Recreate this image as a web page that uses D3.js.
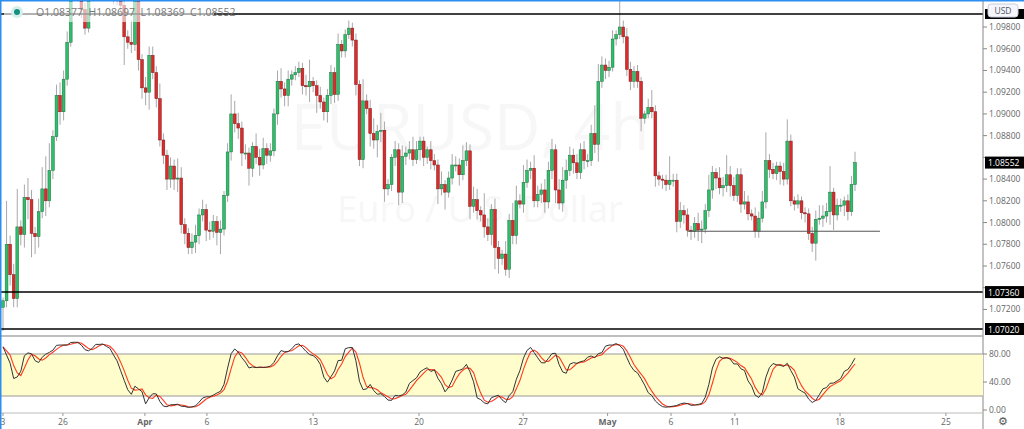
<!DOCTYPE html>
<html>
<head>
<meta charset="utf-8">
<script src="https://cdn.jsdelivr.net/npm/d3@7"></script>
<style>
  body { margin: 0; background: #fff; font-family: "Open Sans", sans-serif; }
  svg { display: block; }
</style>
</head>
<body>
<script>
// closes (4h candles)
const closes = [
  1.0728,1.0780,1.0752,1.0730,1.0796,1.0789,1.0823,1.0821,1.0790,1.0787,1.0810,1.0831,1.0820,1.0848,1.0879,1.0917,1.0902,1.0932,1.0966,1.1014,
  1.1028,1.1019,1.0996,1.0979,1.1010,1.1023,1.1032,1.1019,1.1037,1.1023,1.1014,1.1006,1.1012,1.1000,1.0971,1.0966,1.0964,1.1005,1.0950,1.0924,1.0920,1.0954,
  1.0938,1.0914,1.0876,1.0862,1.0840,1.0852,1.0840,1.0841,1.0798,1.0790,1.0777,1.0782,1.0788,1.0807,1.0812,1.0793,1.0792,1.0801,1.0791,
  1.0794,1.0825,1.0865,1.0900,1.0891,1.0887,1.0864,1.0864,1.0850,1.0870,1.0860,1.0853,1.0868,1.0862,1.0866,1.0900,1.0930,1.0923,1.0917,1.0932,
  1.0936,1.0938,1.0942,1.0926,1.0925,1.0930,1.0926,1.0917,1.0911,1.0902,1.0917,1.0938,1.0918,1.0964,1.0958,1.0973,1.0979,1.0968,1.0927,1.0858,
  1.0912,1.0905,1.0882,1.0876,1.0884,1.0885,1.0831,1.0835,1.0860,1.0867,1.0828,1.0861,1.0864,1.0867,1.0858,1.0867,1.0875,1.0860,1.0867,1.0857,
  1.0853,1.0831,1.0835,
  1.0828,1.0841,1.0853,1.0853,1.0844,1.0857,1.0866,1.0815,1.0821,1.0811,1.0807,1.0796,1.0789,1.0812,1.0777,1.0767,1.0771,1.0757,1.0802,1.0788,
  1.0820,1.0817,1.0837,1.0848,1.0850,1.0820,1.0826,1.0830,1.0819,1.0848,1.0867,1.0830,1.0818,1.0839,1.0848,1.0862,1.0855,1.0846,1.0867,1.0857,
  1.0857,1.0882,1.0872,1.0930,1.0945,1.0940,1.0943,1.0969,1.0973,1.0980,1.0971,1.0941,1.0930,1.0939,1.0930,1.0896,1.0900,1.0906,1.0902,1.0843,
  1.0840,1.0839,1.0835,
  1.0839,1.0839,1.0801,1.0811,1.0807,1.0793,1.0792,1.0799,1.0793,1.0794,1.0811,1.0830,1.0846,1.0841,1.0832,1.0834,1.0844,1.0834,1.0825,1.0844,
  1.0817,1.0819,1.0808,1.0806,1.0792,1.0804,1.0819,1.0857,1.0849,1.0845,1.0852,1.0847,1.0840,1.0875,1.0820,1.0817,1.0820,1.0809,1.0808,1.0790,
  1.0781,1.0803,1.0804,1.0806,1.0810,1.0828,1.0807,1.0816,1.0816,1.0820,1.0810,1.0835,1.08552
];
const firstOpen = 1.0722;
// wick lengths in pips beyond the body
const wickUp = [
  3,40,8,10,35,6,12,18,9,6,12,20,30,25,6,10,12,8,10,6,
  6,5,8,6,10,6,8,5,6,4,6,5,7,8,7,6,20,6,7,5,10,8,
  8,6,14,6,5,8,6,18,10,6,5,8,10,6,9,5,8,6,5,
  8,4,8,18,12,10,6,8,5,4,12,8,10,5,7,5,10,12,6,8,
  4,6,6,5,10,20,4,5,8,4,6,7,5,10,4,5,7,5,6,4,
  20,6,8,14,6,16,8,5,3,8,6,10,6,8,12,8,4,4,3,8,
  6,5,12,
  4,6,10,8,6,14,8,6,12,10,4,20,8,5,10,6,4,12,6,16,
  14,6,16,10,6,12,8,6,10,8,10,5,10,12,10,8,6,8,6,8,
  6,8,26,16,8,6,6,8,4,26,6,8,7,5,6,4,3,8,16,6,
  4,4,5,
  22,6,6,8,5,6,4,6,10,8,6,14,6,4,10,8,18,8,8,6,
  6,10,6,4,8,6,10,26,6,6,4,4,8,20,6,4,6,4,5,5,
  6,8,12,10,8,24,4,6,6,4,6,8,10
];
const wickDn = [
  22,6,10,8,8,10,12,18,22,16,10,6,14,6,8,4,12,8,6,4,
  4,6,8,6,4,6,5,6,4,6,8,5,6,6,26,6,8,6,10,10,12,16,
  6,8,6,8,10,8,10,12,8,10,6,6,10,8,6,10,8,6,12,
  20,6,6,8,8,10,12,6,16,8,6,10,4,8,6,5,10,8,10,10,
  6,5,4,8,8,14,6,16,6,8,10,8,8,6,6,6,4,6,10,6,
  8,5,12,8,16,10,12,6,6,8,12,10,8,6,6,4,10,8,6,8,
  5,14,6,
  16,5,6,6,10,5,5,12,6,8,6,10,6,10,20,14,6,6,8,8,
  8,4,8,5,8,6,6,8,10,6,8,12,6,8,8,5,10,6,6,8,
  6,5,8,16,6,8,6,4,6,4,6,6,8,6,6,12,5,4,6,10,
  6,8,6,
  5,6,10,6,8,6,8,6,10,12,4,6,8,10,6,8,6,10,5,6,
  8,5,6,4,6,6,4,6,8,5,6,12,6,5,5,6,4,6,8,6,
  8,16,5,8,6,12,14,5,6,10,8,4,6
];
const priceTicks = d3.range(1.072, 1.0981, 0.002);
const hLines = [1.0992, 1.0736, 1.0702];
const supportLine = {price: 1.0792, from: 192, to: 246};
const dateLabels = ["3", "26", "Apr", "6", "13", "20", "27", "May", "6", "11", "18", "25"];
const datePos = [0, 16.8, 39.8, 57.2, 87, 116.7, 145.9, 169.6, 187.4, 205.3, 234.8, 264.5];
const boldLabels = ["Apr", "May"];
const oscTicks = [0, 40, 80];
const legend = "O1.08377  H1.08697  L1.08369  C1.08552";

const W = 1024, H = 429, plotR = 983;
const svg = d3.select("body").append("svg").attr("width", W).attr("height", H);

const candles = closes.map((c, i) => {
  const o = i ? closes[i - 1] : firstOpen;
  return {i, o, c, h: Math.max(o, c) + wickUp[i] / 10000, l: Math.min(o, c) - wickDn[i] / 10000};
});

const x = d3.scaleLinear().domain([0, closes.length - 1]).range([3, 855]);
const y = d3.scaleLinear().domain([1.0992, 1.0702]).range([14, 329]);

// watermark
svg.append("text").attr("x", 470).attr("y", 150).attr("text-anchor", "middle")
  .attr("font-size", 64).attr("fill", "#f7f7f7").text("EURUSD, 4h");
svg.append("text").attr("x", 480).attr("y", 222).attr("text-anchor", "middle")
  .attr("font-size", 36).attr("fill", "#f7f7f7").text("Euro / U.S. Dollar");

const main = svg.append("g");
main.append("clipPath").attr("id", "clip").append("rect")
  .attr("x", 0).attr("y", 0).attr("width", plotR).attr("height", 335);
const cg = main.append("g").attr("clip-path", "url(#clip)");

const cs = cg.selectAll("g.c").data(candles).join("g");
cs.append("line").attr("x1", d => x(d.i)).attr("x2", d => x(d.i))
  .attr("y1", d => y(d.h)).attr("y2", d => y(d.l)).attr("stroke", "#a8a8a8").attr("stroke-width", 1);
cs.append("rect").attr("x", d => x(d.i) - 1.4).attr("width", 2.8)
  .attr("y", d => y(Math.max(d.o, d.c)))
  .attr("height", d => Math.max(1, Math.abs(y(d.o) - y(d.c))))
  .attr("fill", d => d.c >= d.o ? "#2fbf6a" : "#dd2b2b")
  .attr("stroke", d => d.c >= d.o ? "#1c6e3e" : "#7a1b1b").attr("stroke-width", 0.5);

// horizontal levels
cg.selectAll("line.h").data(hLines).join("line")
  .attr("x1", 0).attr("x2", plotR).attr("y1", d => y(d)).attr("y2", d => y(d))
  .attr("stroke", "#000").attr("stroke-width", 1.4);
cg.append("line").attr("x1", x(supportLine.from)).attr("x2", x(supportLine.to))
  .attr("y1", y(supportLine.price)).attr("y2", y(supportLine.price))
  .attr("stroke", "#555").attr("stroke-width", 1);

// legend
svg.append("rect").attr("x", 4).attr("y", 2).attr("width", 210).attr("height", 20).attr("fill", "#fff").attr("opacity", 0.6);
svg.append("circle").attr("cx", 17).attr("cy", 12).attr("r", 6).attr("fill", "#d6efec");
svg.append("circle").attr("cx", 17).attr("cy", 12).attr("r", 3).attr("fill", "#13907f");
svg.append("text").attr("x", 36).attr("y", 16).attr("font-size", 10.5).attr("fill", "#777")
  .attr("xml:space", "preserve").text(legend);

// right price axis
const boxes = [...hLines.slice(1), closes[closes.length - 1]];
svg.append("line").attr("x1", plotR).attr("x2", plotR).attr("y1", 0).attr("y2", 429).attr("stroke", "#888");
const ax = svg.append("g").attr("font-size", 8.5).attr("fill", "#666");
priceTicks.forEach(t => {
  ax.append("line").attr("x1", plotR).attr("x2", plotR + 4).attr("y1", y(t)).attr("y2", y(t)).attr("stroke", "#888");
  if (boxes.some(b => Math.abs(y(b) - y(t)) < 12)) return;
  ax.append("text").attr("x", plotR + 6).attr("y", y(t) + 3).text(t.toFixed(5));
});
boxes.forEach(p => {
  svg.append("rect").attr("x", plotR + 2).attr("y", y(p) - 6).attr("width", 39).attr("height", 12).attr("fill", "#000");
  svg.append("text").attr("x", plotR + 5).attr("y", y(p) + 3.5).attr("font-size", 8.5).attr("fill", "#fff").text(p.toFixed(5));
});
svg.append("rect").attr("x", plotR + 2).attr("y", y(hLines[0]) - 5).attr("width", 39).attr("height", 10).attr("fill", "#000");
svg.append("rect").attr("x", 988).attr("y", 4).attr("width", 30).attr("height", 13).attr("rx", 3)
  .attr("fill", "#f4f6fb").attr("stroke", "#ccd");
svg.append("text").attr("x", 1003).attr("y", 14).attr("text-anchor", "middle").attr("font-size", 8.5).attr("fill", "#556").text("USD");

// stochastic oscillator (14,3,3) from the candles
const kRaw = candles.map((d, i) => {
  const w = candles.slice(Math.max(0, i - 13), i + 1);
  const hh = d3.max(w, e => e.h), ll = d3.min(w, e => e.l);
  return 100 * (d.c - ll) / (hh - ll);
});
const sma = (arr, n) => arr.map((v, i) => d3.mean(arr.slice(Math.max(0, i - n + 1), i + 1)));
const kLine = sma(kRaw, 3), dLine = sma(kLine, 3);

const yo = d3.scaleLinear().domain([0, 100]).range([410, 340]);
svg.append("line").attr("x1", 0).attr("x2", plotR).attr("y1", 336).attr("y2", 336).attr("stroke", "#aaa").attr("stroke-width", 1.5);
svg.append("rect").attr("x", 0).attr("width", plotR).attr("y", yo(80)).attr("height", yo(20) - yo(80)).attr("fill", "#fffdcc");
[20, 80].forEach(v => svg.append("line").attr("x1", 0).attr("x2", plotR).attr("y1", yo(v)).attr("y2", yo(v)).attr("stroke", "#999"));
svg.append("line").attr("x1", 0).attr("x2", plotR).attr("y1", 413).attr("y2", 413).attr("stroke", "#bbb");
const ln = arr => d3.line().x((v, i) => x(i)).y(v => yo(v))(arr);
svg.append("path").attr("d", ln(dLine)).attr("fill", "none").attr("stroke", "#ff3b1f").attr("stroke-width", 1.1);
svg.append("path").attr("d", ln(kLine)).attr("fill", "none").attr("stroke", "#333").attr("stroke-width", 1);
oscTicks.forEach(t => {
  svg.append("line").attr("x1", plotR).attr("x2", plotR + 4).attr("y1", yo(t)).attr("y2", yo(t)).attr("stroke", "#888");
  svg.append("text").attr("x", plotR + 6).attr("y", yo(t) + 3).attr("font-size", 8.5).attr("fill", "#666").text(t.toFixed(2));
});

// date axis
dateLabels.forEach((t, i) => {
  svg.append("line").attr("x1", x(datePos[i])).attr("x2", x(datePos[i])).attr("y1", 413).attr("y2", 416).attr("stroke", "#999");
  svg.append("text").attr("x", x(datePos[i])).attr("y", 425).attr("text-anchor", "middle")
    .attr("font-size", 8.5).attr("font-weight", boldLabels.includes(t) ? "bold" : "normal")
    .attr("fill", "#666").text(t);
});
svg.append("text").attr("x", 1003).attr("y", 425).attr("text-anchor", "middle").attr("font-size", 11).attr("fill", "#555").text("⚙");

// frame
svg.append("line").attr("x1", 0).attr("x2", W).attr("y1", 0.75).attr("y2", 0.75).attr("stroke", "#2b8ef0").attr("stroke-width", 1.5);
svg.append("line").attr("x1", 0.75).attr("x2", 0.75).attr("y1", 0).attr("y2", H).attr("stroke", "#2b8ef0").attr("stroke-width", 1.5);
</script>
</body>
</html>
